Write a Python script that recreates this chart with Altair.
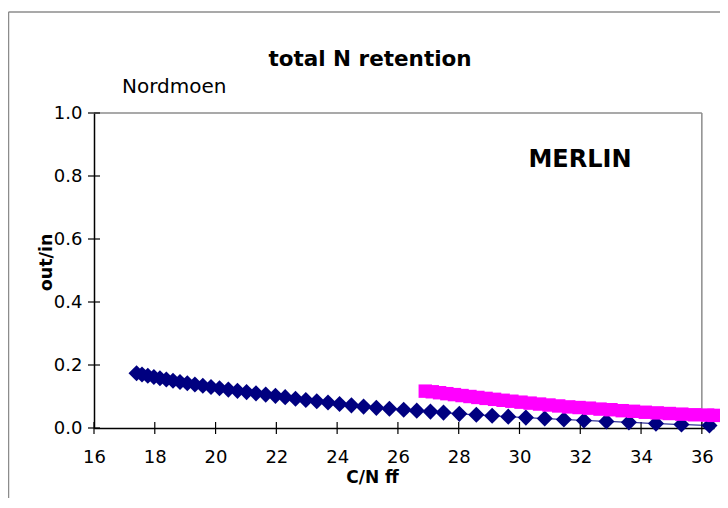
import altair as alt
import pandas as pd

# ---- data ----
blue_x = [17.40, 17.58, 17.77, 17.97, 18.17, 18.38, 18.60, 18.83, 19.07, 19.32,
          19.58, 19.85, 20.13, 20.42, 20.72, 21.02, 21.33, 21.65, 21.97, 22.29,
          22.63, 22.97, 23.33, 23.70, 24.08, 24.47, 24.87, 25.29, 25.72, 26.19,
          26.62, 27.07, 27.50, 28.02, 28.58, 29.10, 29.63, 30.21, 30.83, 31.46,
          32.12, 32.86, 33.60, 34.49, 35.33, 36.25]
blue_y = [0.174, 0.170, 0.166, 0.162, 0.158, 0.154, 0.150, 0.146, 0.142, 0.138,
          0.134, 0.130, 0.126, 0.122, 0.118, 0.114, 0.110, 0.106, 0.102, 0.098,
          0.093, 0.089, 0.085, 0.081, 0.076, 0.072, 0.068, 0.064, 0.061, 0.058,
          0.055, 0.052, 0.049, 0.045, 0.042, 0.039, 0.036, 0.033, 0.030, 0.027,
          0.024, 0.021, 0.018, 0.014, 0.011, 0.008]

pink_x = [26.90, 27.13, 27.37, 27.61, 27.86, 28.11, 28.37, 28.63, 28.90, 29.18,
          29.46, 29.75, 30.05, 30.35, 30.66, 30.97, 31.29, 31.62, 31.96, 32.30,
          32.65, 33.01, 33.38, 33.75, 34.14, 34.53, 34.93, 35.34, 35.76, 36.19,
          36.40]
pink_y = [0.117, 0.115, 0.112, 0.109, 0.106, 0.103, 0.100, 0.097, 0.094, 0.091,
          0.088, 0.085, 0.082, 0.079, 0.076, 0.073, 0.070, 0.067, 0.065, 0.063,
          0.060, 0.058, 0.055, 0.053, 0.050, 0.048, 0.046, 0.044, 0.042, 0.041,
          0.040]

x_ticks = [16, 18, 20, 22, 24, 26, 28, 30, 32, 34, 36]
y_ticks = [0.0, 0.2, 0.4, 0.6, 0.8, 1.0]

title_text = "total N retention"
site_text = "Nordmoen"
model_text = "MERLIN"
x_title = "C/N ff"
y_title = "out/in"

# ---- styling ----
FONT = "DejaVu Sans"
W, H = 620, 315
NAVY = "#000080"
MAGENTA = "#FF00FF"
FRAME = "#8c8c8c"

blue = pd.DataFrame({"x": blue_x, "y": blue_y})
pink = pd.DataFrame({"x": pink_x, "y": pink_y})
xt = pd.DataFrame({"v": x_ticks})
yt = pd.DataFrame({"v": y_ticks})
one = pd.DataFrame({"a": [0]})

xscale = alt.Scale(domain=[16, 36.4], nice=False, zero=False)
yscale = alt.Scale(domain=[0, 1], nice=False)

xaxis = alt.Axis(values=x_ticks, ticks=False, grid=False, domainColor="black",
                 domainWidth=1.5, labelFont=FONT, labelFontSize=18,
                 labelColor="black", labelPadding=20, labelFlush=False,
                 labelOverlap=False, format="d",
                 title=x_title, titleFont=FONT, titleFontSize=17,
                 titleFontWeight="bold", titleColor="black",
                 titleX=278, titleY=49, titleBaseline="middle", titleAlign="center")
yaxis = alt.Axis(values=y_ticks, ticks=False, grid=False, domainColor="black",
                 domainWidth=1.5, labelFont=FONT, labelFontSize=18,
                 labelColor="black", labelPadding=12, labelFlush=False,
                 labelOverlap=False, format=".1f",
                 title=y_title, titleFont=FONT, titleFontSize=17.5,
                 titleFontWeight="bold", titleColor="black",
                 titleX=-48, titleY=149, titleAngle=270,
                 titleBaseline="middle", titleAlign="center")

# frame of plot area (top and right)
frame_top = alt.Chart(one).mark_rule(color=FRAME, strokeWidth=1.5).encode(
    x=alt.datum(16, scale=xscale, axis=xaxis), x2=alt.datum(36),
    y=alt.datum(1, scale=yscale, axis=yaxis))
frame_right = alt.Chart(one).mark_rule(color=FRAME, strokeWidth=1.5).encode(
    x=alt.datum(36), y=alt.datum(0), y2=alt.datum(1))

# outer chart border (top and left)
border_top = alt.Chart(one).mark_rule(color=FRAME, strokeWidth=1.5).encode(
    x=alt.value(-85.5), x2=alt.value(W + 120), y=alt.value(-101))
border_left = alt.Chart(one).mark_rule(color=FRAME, strokeWidth=1.5).encode(
    x=alt.value(-85.5), y=alt.value(-101), y2=alt.value(H + 120))

# crossing tick marks
yticks = alt.Chart(yt).mark_rule(color="black", strokeWidth=1.2).encode(
    y=alt.Y("v:Q"), x=alt.value(-6), x2=alt.value(6))
xticks = alt.Chart(xt).mark_rule(color="black", strokeWidth=1.2).encode(
    x=alt.X("v:Q"), y=alt.value(H - 6), y2=alt.value(H + 6))

blue_line = alt.Chart(blue).mark_line(color=NAVY, strokeWidth=1).encode(
    x="x:Q", y="y:Q")
blue_pts = alt.Chart(blue).mark_point(shape="diamond", filled=True, size=260,
                                      color=NAVY, opacity=1).encode(
    x="x:Q", y="y:Q")
pink_line = alt.Chart(pink).mark_line(color=MAGENTA, strokeWidth=1).encode(
    x="x:Q", y="y:Q")
pink_pts = alt.Chart(pink).mark_point(shape="square", filled=True, size=180,
                                      color=MAGENTA, opacity=1).encode(
    x="x:Q", y="y:Q")

title = alt.Chart(one).mark_text(font=FONT, fontSize=21.5, fontWeight="bold",
                                 color="black", align="center",
                                 baseline="middle").encode(
    x=alt.value(276), y=alt.value(-53), text=alt.value(title_text))
site = alt.Chart(one).mark_text(font=FONT, fontSize=20, color="black",
                                align="left", baseline="middle").encode(
    x=alt.value(28), y=alt.value(-26), text=alt.value(site_text))
model = alt.Chart(one).mark_text(font=FONT, fontSize=24, fontWeight="bold",
                                 color="black", align="center",
                                 baseline="middle").encode(
    x=alt.value(486), y=alt.value(47), text=alt.value(model_text))

chart = alt.layer(
    frame_top, frame_right, border_top, border_left, yticks, xticks,
    blue_line, blue_pts, pink_line, pink_pts, title, site, model
).properties(
    width=W, height=H,
    autosize=alt.AutoSizeParams(type="none"),
    padding={"left": 86, "top": 105, "right": 6, "bottom": 70},
    background="white",
).configure_view(stroke=None)

chart.save("out.html", embed_options={"renderer": "svg", "actions": False})
